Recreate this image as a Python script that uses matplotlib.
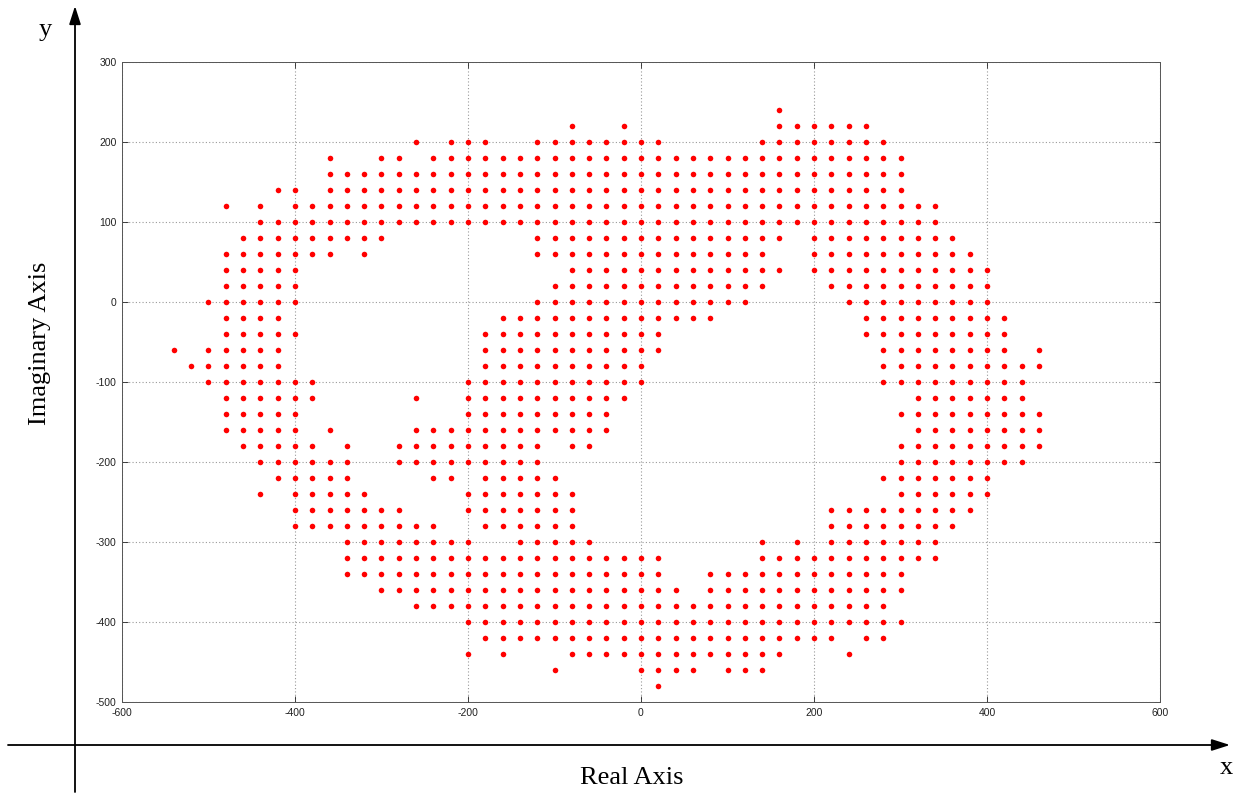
import matplotlib
matplotlib.use("Agg")
import matplotlib.pyplot as plt
import numpy as np

plt.rcParams["axes.unicode_minus"] = False

# grid of dots: one string per row, '#' = dot
# columns go from x = -540 to x = 460 in steps of 20
x_start = -540
x_step = 20
row_y = [240, 220, 200, 180, 160, 140, 120, 100, 80, 60, 40, 20, 0,
         -20, -40, -60, -80, -100, -120, -140, -160, -180, -200, -220, -240,
         -260, -280, -300, -320, -340, -360, -380, -400, -420, -440, -460, -480]
rows = [
    ".......... .......... .......... .....#.... .......... .",  # 240
    ".......... .......... ...#..#... .....##### #......... .",  # 220
    ".......... ....#.###. .########. ....###### ##........ .",  # 200
    ".........# ..##.##### ########## ########## ###....... .",  # 180
    ".........# ########## ########## ########## ###....... .",  # 160
    "......##.# ########## ########## ########## ###....... .",  # 140
    "...#.#.### ########## ########## ########## #####..... .",  # 120
    ".....##### ########## ########## ########## #####..... .",  # 100
    "....###### ###....... .######### ######.### ######.... .",  # 80
    "...####### .#........ .######### #####..### #######... .",  # 60
    "...#####.. .......... ...####### ######.### ########.. .",  # 40
    "...#####.. .......... ..######## #####...## ########.. .",  # 20
    "..######.. .......... .######### ####.....# ########.. .",  # 0
    "...####... .........# ########## ##........ #########. .",  # -20
    "...#####.. ........## #########. .......... #########. .",  # -40
    "#.#####... ........## #########. .......... .########. #",  # -60
    ".######... ........## ########.. .......... .######### #",  # -80
    "..#######. .......### ########.. .......... .######### .",  # -100
    "...######. ....#..### #######... .......... ...####### .",  # -120
    "...#####.. .......### ######.... .......... ..######## #",  # -140
    "...#####.# ....###### ######.... .......... ...####### #",  # -160
    "....#####. #..####### ##.##..... .......... ..######## #",  # -180
    ".....##### #..####### ##........ .......... ..######## .",  # -200
    "......#### #....##.## ###....... .......... .#######.. .",  # -220
    ".....#.### ##.....### ####...... .......... ..######.. .",  # -240
    ".......### ####...### ####...... ........## #######... .",  # -260
    ".......### ######..## ####...... ........## ######.... .",  # -280
    ".......... ########.. #####..... ....#.#.## #####..... .",  # -300
    ".......... ########## #########. ....###### #####..... .",  # -320
    ".......... ########## #########. .######### ###....... .",  # -340
    ".......... ..######## ########## .######### ###....... .",  # -360
    ".......... ....###### ########## ########## ##........ .",  # -380
    ".......... .......### ########## ########## ###....... .",  # -400
    ".......... ........## ########## #########. ##........ .",  # -420
    ".......... .......#.# ...####### ######...# .......... .",  # -440
    ".......... .......... ..#....### #.###..... .......... .",  # -460
    ".......... .......... ........#. .......... .......... .",  # -480
]

x_ticks = [-600, -400, -200, 0, 200, 400, 600]
y_ticks = [300, 200, 100, 0, -100, -200, -300, -400, -500]

xs = []
ys = []
for y, r in zip(row_y, rows):
    r = r.replace(" ", "")
    for i, c in enumerate(r):
        if c == "#":
            xs.append(x_start + i * x_step)
            ys.append(y)

W, H = 1244, 795
fig = plt.figure(figsize=(W / 100, H / 100), dpi=100)

# overlay in pixel units for the hand-drawn outer axes
bg = fig.add_axes([0, 0, 1, 1])
bg.set_xlim(0, W)
bg.set_ylim(H, 0)
bg.axis("off")
arrow = dict(arrowstyle="-|>,head_length=1.1,head_width=0.35", color="black", lw=1.3,
             shrinkA=0, shrinkB=0)
bg.annotate("", xy=(75, 6), xytext=(75, 792), arrowprops=arrow)
bg.annotate("", xy=(1230, 745), xytext=(8, 745), arrowprops=arrow)

serif = ["Liberation Serif", "DejaVu Serif"]
bg.text(45, 30, "y", fontsize=19, family=serif, ha="center", va="center")
bg.text(1226, 768, "x", fontsize=19, family=serif, ha="center", va="center")
bg.text(40, 343, "Imaginary Axis", fontsize=19, family=serif, rotation=90,
        ha="center", va="center")
bg.text(632, 778, "Real Axis", fontsize=19, family=serif, ha="center", va="center")

# the MATLAB-style plot
ax = fig.add_axes([122 / W, 1 - 702 / H, (1160 - 122) / W, (702 - 62) / H])
ax.plot(xs, ys, "o", color="red", markersize=4.0, markeredgewidth=0)
ax.set_xlim(-600, 600)
ax.set_ylim(-500, 300)
ax.set_xticks(x_ticks)
ax.set_yticks(y_ticks)
ax.grid(True, linestyle=(0, (1, 2)), color="#999999", linewidth=0.8)
ax.tick_params(direction="in", top=True, right=True, length=4, width=0.6,
               labelsize=7.5, pad=4, colors="#222222")
for lab in ax.get_xticklabels() + ax.get_yticklabels():
    lab.set_family("Liberation Sans")
for s in ax.spines.values():
    s.set_linewidth(0.7)
    s.set_color("#555555")

fig.savefig("out.png", dpi=100)
